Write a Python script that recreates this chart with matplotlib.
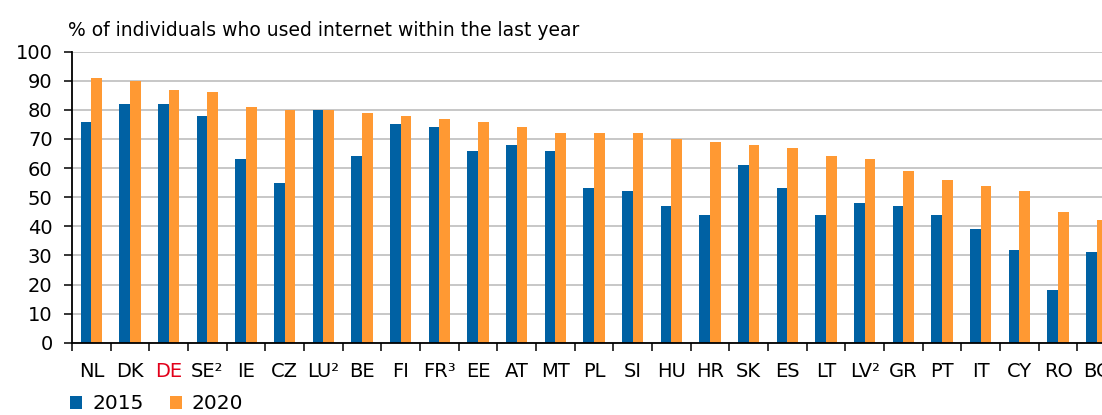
import matplotlib
matplotlib.use("Agg")
import matplotlib.pyplot as plt
import numpy as np
from matplotlib.patches import Patch

categories = ["NL", "DK", "DE", "SE²", "IE", "CZ", "LU²", "BE", "FI", "FR³", "EE", "AT", "MT",
              "PL", "SI", "HU", "HR", "SK", "ES", "LT", "LV²", "GR", "PT", "IT", "CY", "RO", "BG"]
values_2015 = [76, 82, 82, 78, 63, 55, 80, 64, 75, 74, 66, 68, 66,
               53, 52, 47, 44, 61, 53, 44, 48, 47, 44, 39, 32, 18, 31]
values_2020 = [91, 90, 87, 86, 81, 80, 80, 79, 78, 77, 76, 74, 72,
               72, 72, 70, 69, 68, 67, 64, 63, 59, 56, 54, 52, 45, 42]
series_labels = ["2015", "2020"]
title = "% of individuals who used internet within the last year"
yticks = [0, 10, 20, 30, 40, 50, 60, 70, 80, 90, 100]

BLUE = "#0061A3"
ORANGE = "#FF9933"
RED = "#E2001A"

plt.rcParams['font.family'] = ['DejaVu Sans']

W, H = 1102, 415
fig = plt.figure(figsize=(W / 100, H / 100), dpi=100)

ax_left_px, ax_bottom_px, ax_top_px = 72, 342.7, 51.7
cat_w = 38.67
ax = fig.add_axes([ax_left_px / W, (H - ax_bottom_px) / H,
                   (W - ax_left_px) / W, (ax_bottom_px - ax_top_px) / H])

x = np.arange(len(categories))
bw = 0.277
ax.bar(x - bw / 2, values_2015, width=bw, color=BLUE, zorder=3)
ax.bar(x + bw / 2, values_2020, width=bw, color=ORANGE, zorder=3)

ax.set_yticks(yticks)
ax.yaxis.grid(True, color="#BEBEBE", linewidth=1.2, zorder=0)
ax.set_axisbelow(True)

ax.set_xticks(x)
ax.set_xticklabels(categories)
ax.set_xticks(np.arange(len(categories) + 1) - 0.5, minor=True)
ax.tick_params(axis='x', which='major', length=0, pad=14, labelsize=14)
ax.tick_params(axis='x', which='minor', length=5.5, width=1.1, direction='out')
ax.tick_params(axis='y', which='major', length=6, width=1.1, pad=8, labelsize=14)

# limits set after ticks so tick setting cannot widen the view
ax.set_ylim(0, 100)
ax.set_xlim(-0.5, -0.5 + (W - ax_left_px) / cat_w)

for lbl in ax.get_xticklabels():
    if lbl.get_text() == "DE":
        lbl.set_color(RED)

for s in ["top", "right"]:
    ax.spines[s].set_visible(False)
for s in ["left", "bottom"]:
    ax.spines[s].set_linewidth(1.3)
    ax.spines[s].set_zorder(4)

fig.text(68 / W, (H - 36) / H, title, fontsize=13.5, ha='left', va='baseline')

handles = [Patch(facecolor=BLUE), Patch(facecolor=ORANGE)]
fig.legend(handles, series_labels, loc='lower left', bbox_to_anchor=(70 / W, 0.004),
           ncol=2, frameon=False, fontsize=14.5, handlelength=0.6, handleheight=0.6,
           handletextpad=0.5, columnspacing=1.3, borderpad=0, borderaxespad=0)

fig.savefig("out.png", dpi=100)
